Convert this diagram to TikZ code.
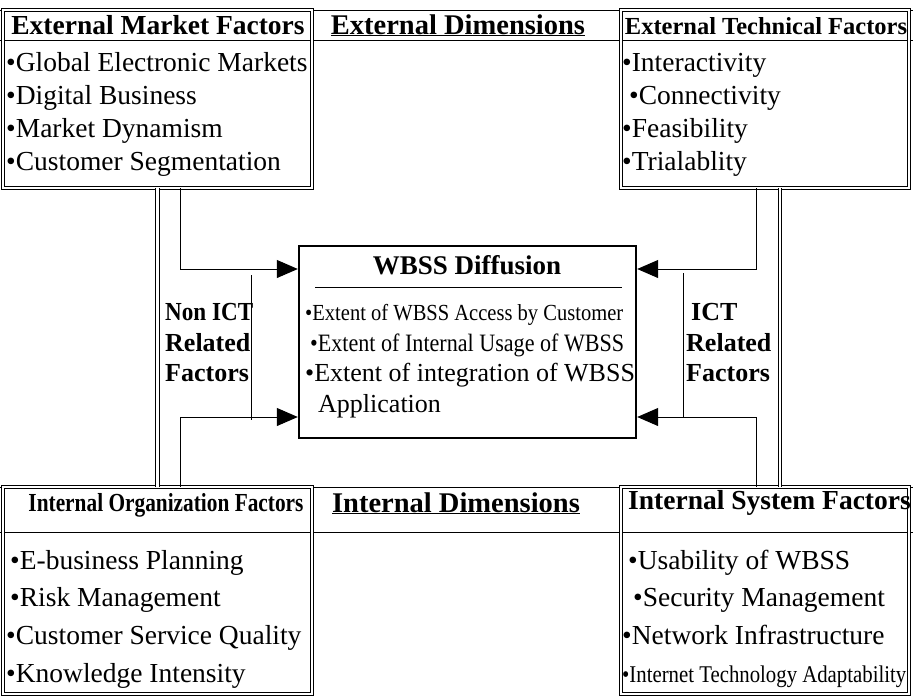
\documentclass[tikz,border=0pt]{standalone}
\usepackage{fontspec}
\setmainfont{Liberation Serif}
\usepackage{graphicx}
\usetikzlibrary{arrows.meta}

\newcommand{\fitw}[2]{\resizebox{#1}{\height}{#2}}

\tikzset{
  dbl/.style={draw, double, double distance=2.6pt, line width=0.8pt, inner sep=0pt},
  item/.style={anchor=base west, inner sep=0pt, font=\fontsize{27.5}{30}\selectfont},
  head/.style={anchor=base, inner sep=0pt, font=\fontsize{27.5}{30}\selectfont\bfseries},
  lbl/.style={anchor=base west, inner sep=0pt, font=\fontsize{26}{28}\selectfont\bfseries},
  arr/.style={-{Triangle[length=21pt,width=18pt]}, line width=1pt},
}

\begin{document}
\begin{tikzpicture}[x=1pt, y=-1pt]
\useasboundingbox (0,0) rectangle (913,697);

% Linhas das faixas de cabecalho
\draw[line width=1pt] (0,10) -- (913,10);
\draw (0,40) -- (913,40);
\draw[line width=1pt] (0,487) -- (913,487);
\draw (0,532) -- (913,532);

% Caixas dos fatores
\node[dbl, minimum width=309, minimum height=178] (emf) at (157.5,99) {};
\node[dbl, minimum width=288, minimum height=178] (etf) at (765,99) {};
\node[dbl, minimum width=309, minimum height=207] (iof) at (157.5,590.5) {};
\node[dbl, minimum width=288, minimum height=207] (isf) at (765,590.5) {};

% Caixa central
\node[draw, line width=2.4pt, minimum width=337, minimum height=192, inner sep=0pt] (wbss) at (467.5,342) {};
\draw (315,287) -- (622,287);

% Fatores externos de mercado
\node[head] (emfh) at (158,34) {External Market Factors};
\node[item] (emf1) at (6,71) {•Global Electronic Markets};
\node[item] (emf2) at (6,104) {•Digital Business};
\node[item] (emf3) at (6,137) {•Market Dynamism};
\node[item] (emf4) at (6,170) {•Customer Segmentation};

% Dimensoes
\node[head, font=\fontsize{28.5}{30}\selectfont\bfseries] (extd) at (458,34) {\underline{External Dimensions}};
\node[head, font=\fontsize{28.5}{30}\selectfont\bfseries] (intd) at (456,512) {\underline{Internal Dimensions}};

% Fatores externos tecnicos
\node[head, font=\fontsize{24.5}{26}\selectfont\bfseries] (etfh) at (766,34) {External Technical Factors};
\node[item] (etf1) at (622,71) {•Interactivity};
\node[item] (etf2) at (629,104) {•Connectivity};
\node[item] (etf3) at (622,137) {•Feasibility};
\node[item] (etf4) at (622,170) {•Trialablity};

% Fatores internos de organizacao
\node[head, font=\fontsize{26}{28}\selectfont\bfseries] (iofh) at (166,511) {\fitw{275pt}{Internal Organization Factors}};
\node[item] (iof1) at (10,569) {•E-business Planning};
\node[item] (iof2) at (10,606) {•Risk Management};
\node[item] (iof3) at (6,644) {•Customer Service Quality};
\node[item] (iof4) at (6,682) {•Knowledge Intensity};

% Fatores internos de sistema
\node[item, font=\fontsize{27.5}{30}\selectfont\bfseries] (isfh) at (628,509) {Internal System Factors};
\node[item] (isf1) at (628,569) {•Usability of WBSS};
\node[item] (isf2) at (633,606) {•Security Management};
\node[item] (isf3) at (622,644) {•Network Infrastructure};
\node[item, font=\fontsize{24}{26}\selectfont] (isf4) at (622,682) {\fitw{284pt}{•Internet Technology Adaptability}};

% Difusao do WBSS
\node[head, font=\fontsize{27}{29}\selectfont\bfseries] (wbssh) at (467,274) {WBSS Diffusion};
\node[item, font=\fontsize{23}{25}\selectfont] (wb1) at (305,320) {\fitw{318pt}{•Extent of WBSS Access by Customer}};
\node[item, font=\fontsize{25}{27}\selectfont] (wb2) at (310,351) {\fitw{314pt}{•Extent of Internal Usage of WBSS}};
\node[item, font=\fontsize{26}{28}\selectfont] (wb3) at (305,381) {•Extent of integration of WBSS};
\node[item, font=\fontsize{26}{28}\selectfont] (wb4) at (318,412) {Application};

% Rotulos laterais
\node[lbl] (nict1) at (165,320) {\fitw{88pt}{Non ICT}};
\node[lbl] (nict2) at (165,351) {Related};
\node[lbl] (nict3) at (165,381) {Factors};
\draw (251,275) -- (251,420);
\node[lbl] (ict1) at (691,320) {ICT};
\node[lbl] (ict2) at (686,351) {Related};
\node[lbl] (ict3) at (686,381) {Factors};
\draw (683,273) -- (683,417);

% Pilares
\coordinate (rp) at (780,0);
\draw[dbl] (emf.south) -- (emf.south |- iof.north);
\draw[dbl] (etf.south -| rp) -- (isf.north -| rp);

% Setas para a caixa central
\coordinate (lc) at (180,0);
\coordinate (rc) at (756,0);
\coordinate (ta) at (0,269);
\coordinate (ba) at (0,417);
\draw[arr] (emf.south -| lc) |- (wbss.west |- ta);
\draw[arr] (iof.north -| lc) |- (wbss.west |- ba);
\draw[arr] (etf.south -| rc) |- (wbss.east |- ta);
\draw[arr] (isf.north -| rc) |- (wbss.east |- ba);
\end{tikzpicture}
\end{document}
